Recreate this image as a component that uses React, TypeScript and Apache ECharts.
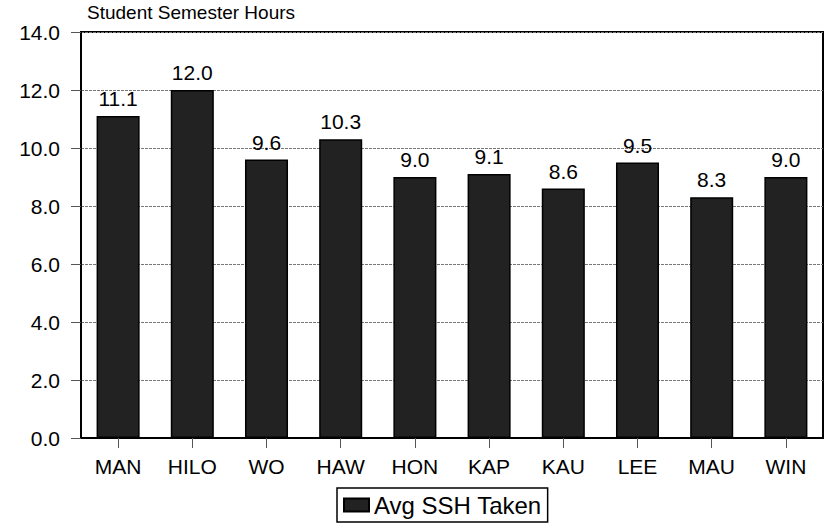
import React, { useEffect, useRef } from "react";
import * as echarts from "echarts";

const categories = ["MAN", "HILO", "WO", "HAW", "HON", "KAP", "KAU", "LEE", "MAU", "WIN"];
const avgSSH = [11.1, 12.0, 9.6, 10.3, 9.0, 9.1, 8.6, 9.5, 8.3, 9.0];
const seriesName = "Avg SSH Taken";
const titleText = "Student Semester Hours";

export default function App() {
  const ref = useRef<HTMLDivElement>(null);
  useEffect(() => {
    const chart = echarts.init(ref.current!, null, { renderer: "svg" });
    const font = "Liberation Sans, Arial, sans-serif";
    chart.setOption({
      animation: false,
      textStyle: { fontFamily: font },
      title: {
        text: titleText,
        left: 87,
        top: 3,
        padding: 0,
        textStyle: { fontSize: 19, fontWeight: "normal", color: "#000", fontFamily: font },
      },
      grid: {
        left: 81,
        top: 32,
        width: 742,
        height: 406,
        show: true,
        borderColor: "#000",
        borderWidth: 2,
        backgroundColor: "#fff",
      },
      legend: {
        data: [{ name: seriesName, icon: "rect" }],
        left: 337,
        top: 488,
        padding: [5, 6, 5, 6],
        borderColor: "#000",
        borderWidth: 1.5,
        itemWidth: 25,
        itemHeight: 13,
        itemGap: 0,
        textStyle: { fontSize: 24, color: "#000", fontFamily: font },
      },
      xAxis: {
        type: "category",
        data: categories,
        axisLine: { show: true, lineStyle: { color: "#000", width: 2 } },
        axisTick: { show: true, alignWithLabel: true, length: 10, lineStyle: { color: "#555" } },
        axisLabel: { fontSize: 21, color: "#000", margin: 18, fontFamily: font },
      },
      yAxis: {
        type: "value",
        min: 0,
        max: 14,
        interval: 2,
        axisLine: { show: true, lineStyle: { color: "#000", width: 2 } },
        axisTick: { show: true, length: 10, lineStyle: { color: "#555" } },
        axisLabel: {
          fontSize: 21,
          color: "#000",
          margin: 21,
          fontFamily: font,
          formatter: (v: number) => v.toFixed(1),
        },
        splitLine: { show: true, lineStyle: { color: "#777", type: [3, 1], width: 1 } },
      },
      series: [
        {
          name: seriesName,
          type: "bar",
          data: avgSSH,
          barWidth: "58%",
          itemStyle: { color: "#222", borderColor: "#000", borderWidth: 1.5 },
          label: {
            show: true,
            position: "top",
            distance: 7,
            fontSize: 21,
            color: "#000",
            fontFamily: font,
            formatter: (p: any) => Number(p.value).toFixed(1),
          },
        },
      ],
    });
    return () => chart.dispose();
  }, []);
  return <div ref={ref} style={{ width: 826, height: 526, position: "absolute", left: 0, top: 0 }} />;
}
